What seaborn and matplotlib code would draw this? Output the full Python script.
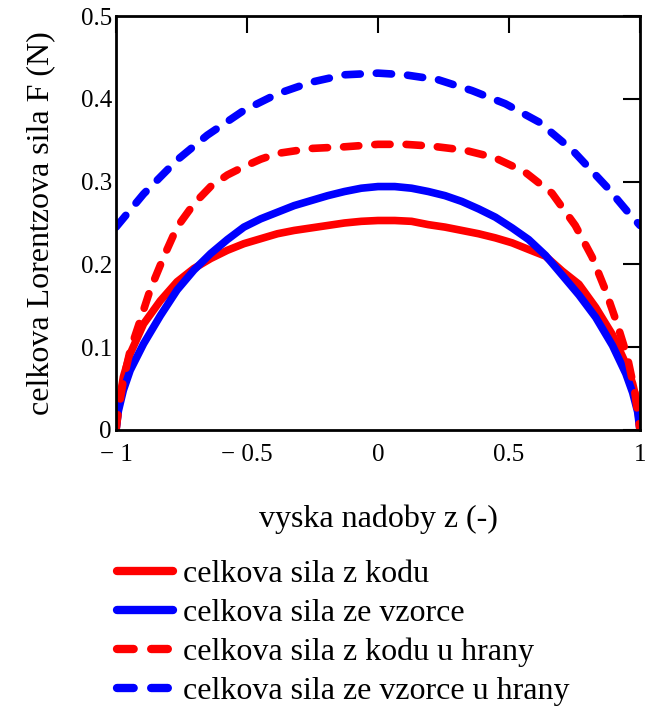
import matplotlib
matplotlib.use("Agg")
import matplotlib.pyplot as plt
import seaborn as sns
import pandas as pd
from matplotlib.lines import Line2D

# ---- data ----
z_solid = [-1.0, -0.991, -0.972, -0.946, -0.895, -0.831, -0.767, -0.703, -0.639, -0.575,
           -0.512, -0.448, -0.384, -0.320, -0.256, -0.192, -0.128, -0.064, 0.0,
           0.064, 0.128, 0.192, 0.256, 0.320, 0.384, 0.448, 0.512, 0.575, 0.639,
           0.703, 0.767, 0.831, 0.895, 0.946, 0.972, 0.991, 1.0]
f_code = [0.0, 0.027, 0.064, 0.092, 0.128, 0.156, 0.179, 0.195, 0.207, 0.217,
          0.225, 0.231, 0.237, 0.241, 0.244, 0.247, 0.250, 0.252, 0.253,
          0.253, 0.252, 0.248, 0.245, 0.241, 0.237, 0.232, 0.226, 0.218, 0.210,
          0.192, 0.176, 0.148, 0.115, 0.080, 0.056, 0.030, 0.0]
f_formula = [0.0, 0.023, 0.048, 0.072, 0.104, 0.138, 0.169, 0.193, 0.213, 0.230,
             0.245, 0.255, 0.263, 0.271, 0.277, 0.283, 0.288, 0.292, 0.294,
             0.294, 0.292, 0.288, 0.283, 0.276, 0.267, 0.257, 0.244, 0.230, 0.211,
             0.187, 0.163, 0.136, 0.102, 0.068, 0.045, 0.022, 0.0]

z_edge = [-1.0, -0.991, -0.972, -0.946, -0.908, -0.870, -0.818, -0.767, -0.703, -0.639,
          -0.575, -0.512, -0.448, -0.384, -0.256, -0.128, 0.0, 0.102, 0.200, 0.330,
          0.444, 0.559, 0.664, 0.753, 0.817, 0.868, 0.913, 0.952, 0.980, 1.0]
f_code_edge = [0.0, 0.023, 0.060, 0.096, 0.132, 0.169, 0.209, 0.245, 0.273, 0.294,
               0.308, 0.318, 0.327, 0.334, 0.340, 0.342, 0.345, 0.345, 0.343, 0.338,
               0.329, 0.312, 0.286, 0.247, 0.209, 0.169, 0.128, 0.088, 0.046, 0.0]

z_edge2 = [-1.0, -0.895, -0.767, -0.652, -0.512, -0.384, -0.256, -0.128, 0.0,
           0.102, 0.230, 0.358, 0.486, 0.614, 0.742, 0.872, 0.949, 1.0]
f_formula_edge = [0.245, 0.285, 0.326, 0.356, 0.386, 0.406, 0.420, 0.429, 0.431,
                  0.429, 0.423, 0.410, 0.394, 0.372, 0.338, 0.294, 0.265, 0.247]

labels = ["celkova sila z kodu", "celkova sila ze vzorce",
          "celkova sila z kodu u hrany", "celkova sila ze vzorce u hrany"]
x_ticks = [-1, -0.5, 0, 0.5, 1]
x_ticklabels = ["\u2212 1", "\u2212 0.5", "0", "0.5", "1"]
y_ticks = [0, 0.1, 0.2, 0.3, 0.4, 0.5]
y_ticklabels = ["0", "0.1", "0.2", "0.3", "0.4", "0.5"]

sns.set_theme(style="white")
plt.rcParams['font.family'] = ['Liberation Serif', 'DejaVu Serif']
plt.rcParams['text.color'] = 'black'
plt.rcParams['axes.labelcolor'] = 'black'
plt.rcParams['xtick.color'] = 'black'
plt.rcParams['ytick.color'] = 'black'

fig = plt.figure(figsize=(6.46, 7.08), dpi=100)
ax = fig.add_axes([0.1796, 0.3927, 0.8111, 0.5847])

LW = 5.5
dash = (0, (2.0, 2.1))
series = [
    (z_solid, f_code, "#ff0000", "-"),
    (z_solid, f_formula, "#0000ff", "-"),
    (z_edge, f_code_edge, "#ff0000", dash),
    (z_edge2, f_formula_edge, "#0000ff", dash),
]
handles = []
for (zz, ff, col, ls), lab in zip(series, labels):
    df = pd.DataFrame({"z": zz, "F": ff})
    sns.lineplot(data=df, x="z", y="F", ax=ax, color=col, linewidth=LW,
                 sort=False, estimator=None, solid_capstyle="round",
                 dash_capstyle="round", solid_joinstyle="round")
    ax.lines[-1].set_linestyle(ls)
    handles.append(Line2D([], [], color=col, linewidth=LW + 0.5, linestyle=ls,
                          solid_capstyle="round", dash_capstyle="round"))

ax.set_xlim(-1, 1)
ax.set_ylim(0, 0.5)
ax.set_xticks(x_ticks)
ax.set_xticklabels(x_ticklabels)
ax.set_yticks(y_ticks)
ax.set_yticklabels(y_ticklabels)
ax.tick_params(direction="in", length=12, width=1.5, top=True, right=True,
               labelsize=18, colors="black")
ax.tick_params(axis="x", pad=10)
ax.tick_params(axis="y", pad=3)
for sp in ax.spines.values():
    sp.set_visible(True)
    sp.set_color("black")
    sp.set_linewidth(2)

ax.set_xlabel("vyska nadoby z (-)", fontsize=23, labelpad=28)
ax.set_ylabel("celkova Lorentzova sila F (N)", fontsize=23, labelpad=18)

fig.legend(handles, labels, loc="upper left", bbox_to_anchor=(0.181, 0.209),
           frameon=False, fontsize=23, handlelength=1.75, handletextpad=0.32,
           labelspacing=0.3, borderaxespad=0, borderpad=0)

fig.savefig("out.png", dpi=100)
